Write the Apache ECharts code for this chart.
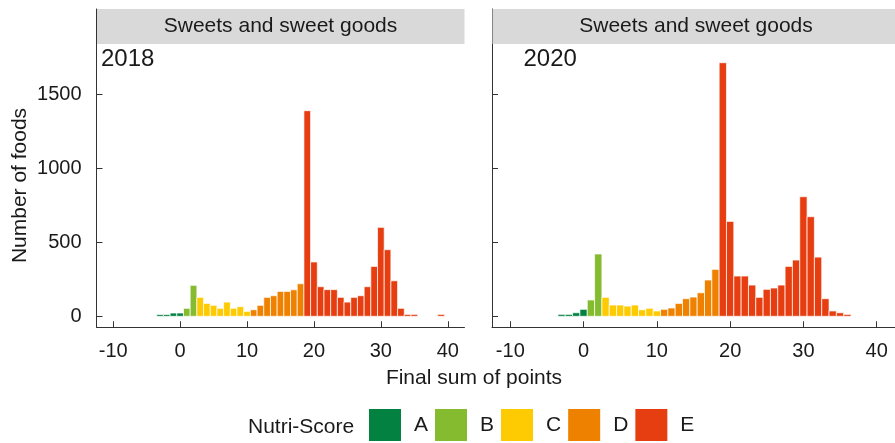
<!DOCTYPE html>
<html>
<head>
<meta charset="utf-8">
<script src="https://cdn.jsdelivr.net/npm/echarts@6/dist/echarts.min.js"></script>
<style>
html,body{margin:0;padding:0;background:#fff;}
#c{width:895px;height:443px;}
</style>
</head>
<body>
<div id="c"></div>
<script>
// ---- data ----
const points = [-3,-2,-1,0,1,2,3,4,5,6,7,8,9,10,11,12,13,14,15,16,17,18,19,20,21,22,23,24,25,26,27,28,29,30,31,32,33,34,35,36,37,38,39];
const counts2018 = [8,8,18,18,50,205,124,83,70,50,92,50,61,29,40,70,124,135,164,164,175,216,1385,363,196,176,176,124,92,124,135,196,333,597,446,236,50,9,9,0,0,0,9];
const counts2020 = [9,9,20,43,106,417,124,72,72,65,72,40,50,32,43,52,83,115,126,155,241,313,1709,637,268,268,207,124,178,187,207,333,376,804,669,396,115,32,20,9,0,0,0];
const grades = ['A','B','C','D','E'];
const gradeUpper = [0, 2, 10, 18, 99];
const gradeColors = ['#038141','#85BB2F','#FECB02','#EE8100','#E63E11'];
const xTicks = [-10,0,10,20,30,40];
const yTicks = [0,500,1000,1500];
const years = ['2018','2020'];
const panelTitle = 'Sweets and sweet goods';
const xName = 'Final sum of points';
const yName = 'Number of foods';
const legendTitle = 'Nutri-Score';

// ---- helpers ----
function gradeOf(p){ for (let i=0;i<gradeUpper.length;i++){ if (p<=gradeUpper[i]) return i; } return gradeUpper.length-1; }

function renderBar(params, api){
  const x = api.value(0), y = api.value(1);
  const p0 = api.coord([x-0.5, y]);
  const p1 = api.coord([x+0.5, 0]);
  return {
    type:'rect',
    shape:{x:p0[0], y:p0[1]-0.6, width:p1[0]-p0[0], height:p1[1]-p0[1]+0.6},
    style:{fill:api.visual('color'), stroke:'rgba(255,255,255,0.7)', lineWidth:1}
  };
}

const FONT = 'Liberation Sans, Arial, sans-serif';
const TXT = '#1a1a1a';
const AX = '#333';

const panels = [counts2018, counts2020];
const series = [];
panels.forEach((counts, pi) => {
  grades.forEach((g, gi) => {
    const data = [];
    points.forEach((p, k) => { if (gradeOf(p) === gi && counts[k] > 0) data.push([p, counts[k]]); });
    series.push({
      type:'custom', name:g, xAxisIndex:pi, yAxisIndex:pi,
      itemStyle:{color:gradeColors[gi]},
      renderItem:renderBar, encode:{x:0, y:1},
      data:data, silent:true, animation:false
    });
  });
});

function xAxisCfg(idx){
  return {
    type:'value', gridIndex:idx, min:-12.5, max:42.5,
    axisLine:{show:true, onZero:false, lineStyle:{color:AX, width:1}},
    axisTick:{show:true, inside:true, length:6, lineStyle:{color:AX}, customValues:xTicks},
    axisLabel:{show:true, customValues:xTicks, margin:14, fontSize:20, color:TXT, fontFamily:FONT, formatter:v=>String(v)},
    splitLine:{show:false}
  };
}
function yAxisCfg(idx, showLabel){
  return {
    type:'value', gridIndex:idx, min:-74.3, max:2076,
    axisLine:{show:true, onZero:false, lineStyle:{color:AX, width:1}},
    axisTick:{show:true, inside:true, length:6, lineStyle:{color:AX}, customValues:yTicks},
    axisLabel:{show:showLabel, customValues:yTicks, margin:15, fontSize:20, color:TXT, fontFamily:FONT, padding:[8,0,0,0], formatter:v=>String(v)},
    splitLine:{show:false}
  };
}

const chart = echarts.init(document.getElementById('c'), null, {renderer:'canvas'});
chart.setOption({
  animation:false,
  backgroundColor:'#fff',
  grid:[
    {left:96.5, top:9, width:368, height:318.3},
    {left:492, top:9, width:414.7, height:318.3}
  ],
  xAxis:[xAxisCfg(0), xAxisCfg(1)],
  yAxis:[yAxisCfg(0, true), yAxisCfg(1, false)],
  legend:{
    data:grades, left:369, top:409, padding:0,
    icon:'rect', itemWidth:32, itemHeight:32, itemGap:7,
    textStyle:{fontSize:21, color:TXT, fontFamily:FONT, padding:[0,0,0,8]},
    selectedMode:false
  },
  graphic:[
    {type:'rect', left:97, top:9, shape:{width:367.5, height:35}, style:{fill:'#d9d9d9'}, z:1},
    {type:'rect', left:492.5, top:9, shape:{width:410, height:35}, style:{fill:'#d9d9d9'}, z:1},
    {type:'text', x:280.5, y:26.5, style:{text:panelTitle, font:'21px '+FONT, fill:TXT, align:'center', verticalAlign:'middle'}, z:2},
    {type:'text', x:696, y:26.5, style:{text:panelTitle, font:'21px '+FONT, fill:TXT, align:'center', verticalAlign:'middle'}, z:2},
    {type:'text', x:101, y:59.5, style:{text:years[0], font:'24px '+FONT, fill:TXT, align:'left', verticalAlign:'middle'}, z:2},
    {type:'text', x:523.5, y:59, style:{text:years[1], font:'24px '+FONT, fill:TXT, align:'left', verticalAlign:'middle'}, z:2},
    {type:'text', x:20, y:185.5, rotation:Math.PI/2, style:{text:yName, font:'21px '+FONT, fill:TXT, align:'center', verticalAlign:'middle'}, z:2},
    {type:'text', x:474, y:378, style:{text:xName, font:'21px '+FONT, fill:TXT, align:'center', verticalAlign:'middle'}, z:2},
    {type:'text', x:248, y:427, style:{text:legendTitle, font:'21px '+FONT, fill:TXT, align:'left', verticalAlign:'middle'}, z:2}
  ],
  series:series
});
</script>
</body>
</html>
